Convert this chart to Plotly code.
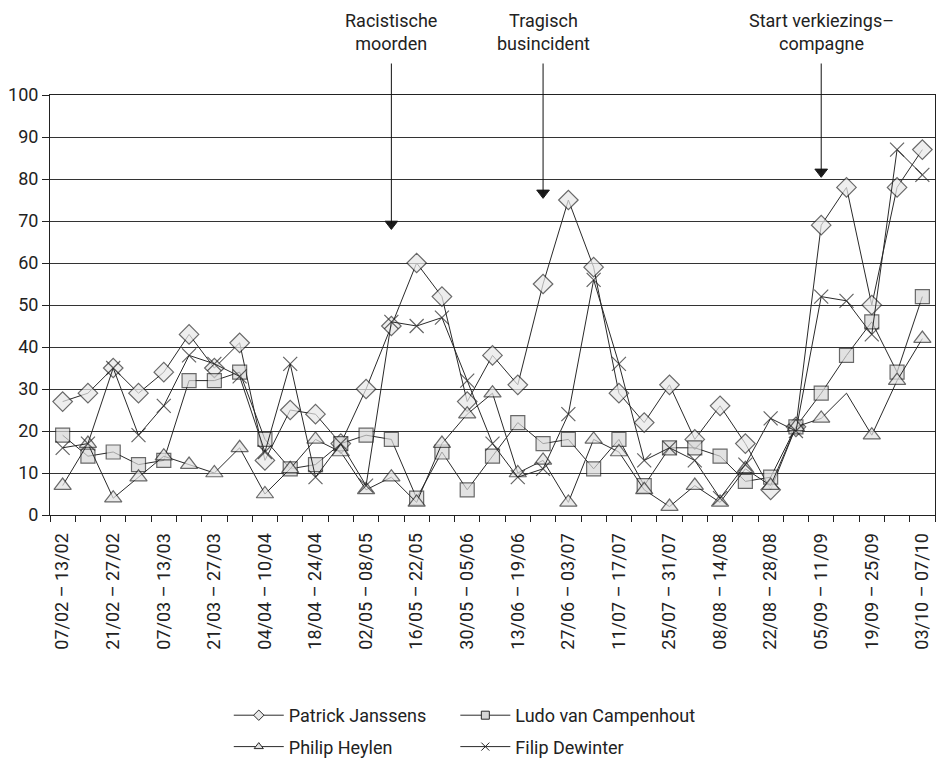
import plotly.graph_objects as go

weeks = ["07/02 – 13/02", "14/02 – 20/02", "21/02 – 27/02", "28/02 – 06/03", "07/03 – 13/03",
         "14/03 – 20/03", "21/03 – 27/03", "28/03 – 03/04", "04/04 – 10/04", "11/04 – 17/04",
         "18/04 – 24/04", "25/04 – 01/05", "02/05 – 08/05", "09/05 – 15/05", "16/05 – 22/05",
         "23/05 – 29/05", "30/05 – 05/06", "06/06 – 12/06", "13/06 – 19/06", "20/06 – 26/06",
         "27/06 – 03/07", "04/07 – 10/07", "11/07 – 17/07", "18/07 – 24/07", "25/07 – 31/07",
         "01/08 – 07/08", "08/08 – 14/08", "15/08 – 21/08", "22/08 – 28/08", "29/08 – 04/09",
         "05/09 – 11/09", "12/09 – 18/09", "19/09 – 25/09", "26/09 – 02/10", "03/10 – 07/10"]

patrick_janssens = [27, 29, 35, 29, 34, 43, 35, 41, 13, 25, 24, 17, 30, 45, 60, 52, 27, 38, 31, 55,
                    75, 59, 29, 22, 31, 18, 26, 17, 6, 21, 69, 78, 50, 78, 87]
ludo_van_campenhout = [19, 14, 15, 12, 13, 32, 32, 34, 18, 11, 12, 17, 19, 18, 4, 15, 6, 14, 22, 17,
                       18, 11, 18, 7, 16, 16, 14, 8, 9, 21, 29, 38, 46, 34, 52]
philip_heylen = [7, 17, 4, 9, 14, 12, 10, 16, 5, 11, 18, 15, 6, 9, 3, 17, 24, 29, 10, 13,
                 3, 18, 15, 6, 2, 7, 3, 11, 7, 21, 23, 29, 19, 32, 42]
filip_dewinter = [16, 17, 35, 19, 26, 38, 36, 33, 15, 36, 9, 17, 7, 46, 45, 47, 32, 17, 9, 11,
                  24, 56, 36, 13, 16, 13, 4, 12, 23, 20, 52, 51, 43, 87, 81]

events = ["Racistische<br>moorden", "Tragisch<br>busincident", "Start verkiezings–<br>compagne"]
event_week = [13, 19, 30]
event_level = [69.3, 76.7, 81.7]

FONT = "Roboto, Arial, sans-serif"
FS = 18
x = list(range(len(weeks)))

W, H = 940, 762
PLOT_TOP, PLOT_H = 95, 420

fig = go.Figure()
series = [
    ("Patrick Janssens", patrick_janssens, "diamond", 15, "#e8e8e8", "legend"),
    ("Ludo van Campenhout", ludo_van_campenhout, "square", 14, "#d6d6d6", "legend2"),
    ("Philip Heylen", philip_heylen, "triangle-up", 15, "#e2e2e2", "legend"),
    ("Filip Dewinter", filip_dewinter, "x-thin-open", 14, "#222222", "legend2"),
]
for name, vals, sym, size, fill, leg in series:
    sizes = [size] * len(vals)
    if name == "Philip Heylen":
        sizes[31] = 0  # the reference shows no marker at this vertex
    fig.add_trace(go.Scatter(
        x=x, y=vals, name=name, mode="lines+markers", showlegend=False,
        customdata=weeks, hovertemplate="%{customdata}: %{y}<extra>" + name + "</extra>",
        line=dict(color="#2a2a2a", width=1),
        marker=dict(symbol=sym, size=sizes, color=fill,
                    line=dict(color="#2a2a2a", width=1.2)),
    ))
# legend-only entries with small symbols, as in the reference
for name, vals, sym, size, fill, leg in series:
    fig.add_trace(go.Scatter(
        x=[None], y=[None], name=name, mode="lines+markers", legend=leg, legendgroup=name,
        line=dict(color="#2a2a2a", width=1),
        marker=dict(symbol=sym, size=8, color=fill, line=dict(color="#2a2a2a", width=1)),
    ))

# event arrows: a plain line from above the plot down to a filled triangle head
for txt, wk, lvl in zip(events, event_week, event_level):
    tip_px = PLOT_TOP + (100 - lvl) * PLOT_H / 100
    fig.add_annotation(x=wk, y=lvl, xref="x", yref="y", text="", showarrow=True,
                       arrowhead=0, arrowwidth=1, arrowcolor="#111",
                       ax=0, ay=-(tip_px - 62))
    fig.add_annotation(x=wk, y=1 + (PLOT_TOP - 32) / PLOT_H, xref="x", yref="paper", text=txt,
                       showarrow=False, font=dict(family=FONT, size=FS, color="#222"),
                       xanchor="center", yanchor="middle", align="center")
fig.add_trace(go.Scatter(
    x=event_week, y=event_level, mode="markers", showlegend=False, hoverinfo="skip",
    cliponaxis=False,
    marker=dict(symbol="triangle-down", size=11, color="#1a1a1a",
                line=dict(color="#1a1a1a", width=1)),
))

leg_common = dict(yref="container", y=1 - 697 / H, xanchor="left", yanchor="top",
                  bgcolor="rgba(0,0,0,0)", font=dict(family=FONT, size=FS),
                  itemwidth=50, tracegroupgap=5)
fig.update_layout(
    width=W, height=H,
    margin=dict(l=50, r=5, t=PLOT_TOP, b=H - PLOT_TOP - PLOT_H, autoexpand=False),
    paper_bgcolor="white", plot_bgcolor="white",
    font=dict(family=FONT, size=FS, color="#222"),
    legend=dict(x=0.202, **leg_common),
    legend2=dict(x=0.458, **leg_common),
    xaxis=dict(range=[-0.5, len(weeks) - 0.5], tickmode="array", tickvals=x[::2],
               ticktext=weeks[::2], tickangle=-90, ticks="", showgrid=False, zeroline=False,
               showline=True, linecolor="#222", linewidth=1, mirror=True, ticklabelstandoff=10,
               minor=dict(tick0=-0.5, dtick=1, ticks="outside", ticklen=6, tickcolor="#222",
                          showgrid=False),
               tickfont=dict(family=FONT, size=FS, color="#222")),
    yaxis=dict(range=[0, 100], dtick=10, ticks="outside", ticklen=7, tickcolor="#222",
               showgrid=True, gridcolor="#333", gridwidth=1, zeroline=False,
               showline=True, linecolor="#222", linewidth=1, mirror=True,
               tickfont=dict(family=FONT, size=FS, color="#222")),
)

fig.write_html("out.html", config={"displayModeBar": False},
               post_script="document.body.style.margin='0';")
